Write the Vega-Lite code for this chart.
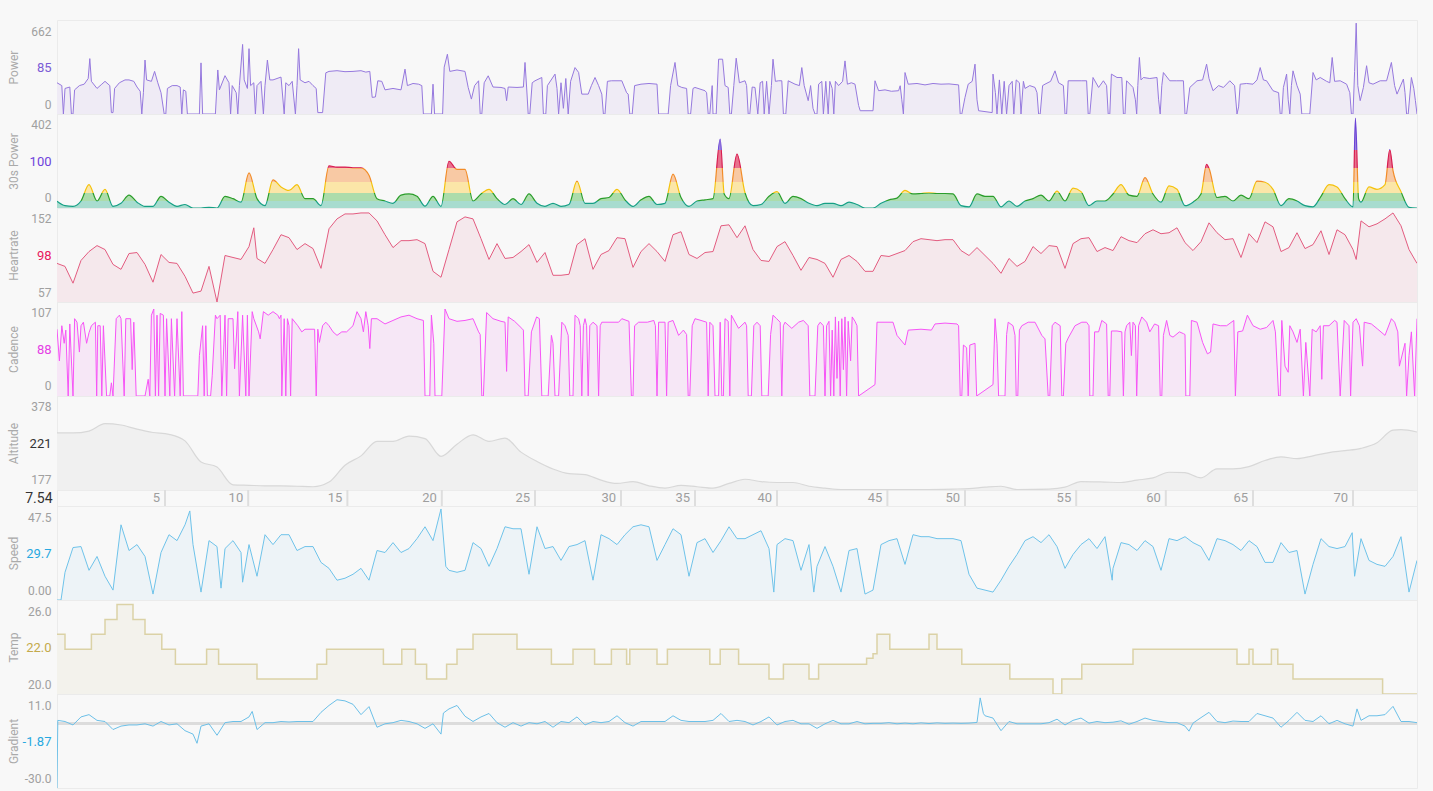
{
  "$schema": "https://vega.github.io/schema/vega-lite/v6.json",
  "background": "#f8f8f8",
  "padding": {"left": 6, "top": 19, "right": 16, "bottom": 4},
  "bounds": "flush",
  "spacing": 0,
  "config": {
    "font": "Roboto",
    "view": {"stroke": "#ebebeb", "strokeWidth": 1},
    "axis": {
      "ticks": false, "domain": false, "grid": false,
      "labelFont": "Roboto", "labelFontSize": 12, "labelColor": "#a0a0a0", "labelPadding": 6,
      "titleFont": "Roboto", "titleFontSize": 12, "titleFontWeight": "normal", "titleColor": "#aaaaaa",
      "minExtent": 38, "maxExtent": 38, "titlePadding": 2, "titleBaseline": "alphabetic"
    }
  },
  "datasets": {
    "pw": [
      {"t":0,"v":220},{"t":0.6,"v":200},{"t":0.8,"v":0},{"t":1.0,"v":180},{"t":1.6,"v":190},{"t":1.8,"v":0},{"t":2.0,"v":0},{"t":2.2,"v":170},{"t":2.8,"v":200},{"t":3.4,"v":210},
      {"t":3.9,"v":250},{"t":4.1,"v":390},{"t":4.3,"v":230},{"t":5,"v":180},{"t":5.6,"v":210},{"t":6,"v":230},{"t":6.6,"v":200},{"t":6.8,"v":10},{"t":7.0,"v":10},{"t":7.2,"v":180},
      {"t":7.8,"v":220},{"t":8.5,"v":240},{"t":9,"v":240},{"t":9.6,"v":230},{"t":10,"v":190},{"t":10.4,"v":160},{"t":10.6,"v":0},{"t":10.8,"v":150},{"t":11.0,"v":380},{"t":11.2,"v":240},
      {"t":11.8,"v":230},{"t":12.2,"v":300},{"t":12.6,"v":220},{"t":13,"v":150},{"t":13.4,"v":0},{"t":13.6,"v":0},{"t":13.8,"v":180},{"t":14.4,"v":200},{"t":15,"v":200},{"t":15.4,"v":190},
      {"t":15.6,"v":0},{"t":15.8,"v":170},{"t":16.1,"v":160},{"t":16.3,"v":0},{"t":17.8,"v":0},{"t":18,"v":360},{"t":18.2,"v":0},{"t":19.8,"v":0},{"t":20.1,"v":310},{"t":20.3,"v":170},
      {"t":21,"v":270},{"t":21.5,"v":220},{"t":21.7,"v":0},{"t":21.9,"v":200},{"t":22.4,"v":150},{"t":22.6,"v":0},{"t":22.8,"v":200},{"t":23.2,"v":490},{"t":23.4,"v":240},{"t":23.8,"v":180},
      {"t":24.0,"v":460},{"t":24.2,"v":200},{"t":24.6,"v":220},{"t":24.8,"v":0},{"t":25.0,"v":200},{"t":25.5,"v":230},{"t":25.8,"v":0},{"t":26.0,"v":200},{"t":26.3,"v":380},{"t":26.6,"v":240},
      {"t":27,"v":240},{"t":27.5,"v":250},{"t":28,"v":260},{"t":28.4,"v":0},{"t":28.6,"v":220},{"t":29,"v":200},{"t":29.4,"v":230},{"t":29.8,"v":0},{"t":30.0,"v":200},{"t":30.2,"v":460},
      {"t":30.4,"v":240},{"t":31,"v":220},{"t":31.5,"v":230},{"t":32,"v":200},{"t":32.4,"v":180},{"t":32.6,"v":10},{"t":33.2,"v":10},{"t":33.6,"v":290},{"t":34,"v":300},{"t":35,"v":305},
      {"t":36,"v":298},{"t":37,"v":300},{"t":38,"v":305},{"t":38.6,"v":295},{"t":39.1,"v":300},{"t":39.4,"v":117},{"t":39.8,"v":120},{"t":40.1,"v":234},{"t":40.6,"v":230},{"t":41,"v":170},
      {"t":42,"v":180},{"t":43,"v":170},{"t":43.5,"v":316},{"t":43.8,"v":200},{"t":44.5,"v":215},{"t":45.2,"v":210},{"t":45.6,"v":200},{"t":45.8,"v":0},{"t":46.8,"v":0},{"t":47,"v":210},
      {"t":47.2,"v":0},{"t":48.2,"v":0},{"t":48.4,"v":330},{"t":48.8,"v":421},{"t":49.1,"v":300},{"t":50,"v":310},{"t":51,"v":300},{"t":51.4,"v":187},{"t":51.8,"v":105},{"t":52.2,"v":200},
      {"t":52.7,"v":234},{"t":52.9,"v":0},{"t":53.1,"v":0},{"t":53.4,"v":220},{"t":53.9,"v":269},{"t":54.5,"v":190},{"t":55.5,"v":187},{"t":56,"v":180},{"t":56.2,"v":94},{"t":56.4,"v":190},
      {"t":57.5,"v":187},{"t":58.3,"v":190},{"t":58.5,"v":363},{"t":58.7,"v":190},{"t":58.9,"v":0},{"t":59.1,"v":0},{"t":59.4,"v":220},{"t":59.75,"v":234},{"t":60.6,"v":257},{"t":60.8,"v":0},
      {"t":61.1,"v":0},{"t":61.3,"v":200},{"t":62.25,"v":281},{"t":62.5,"v":180},{"t":62.7,"v":0},{"t":63,"v":220},{"t":63.3,"v":40},{"t":63.6,"v":250},{"t":63.9,"v":0},{"t":64.2,"v":230},
      {"t":64.75,"v":327},{"t":65.2,"v":293},{"t":65.6,"v":140},{"t":66.4,"v":140},{"t":66.8,"v":200},{"t":67.25,"v":257},{"t":67.7,"v":200},{"t":68.1,"v":140},{"t":68.3,"v":0},{"t":68.5,"v":0},
      {"t":68.8,"v":230},{"t":69.3,"v":234},{"t":70.6,"v":234},{"t":71.2,"v":150},{"t":71.4,"v":140},{"t":71.6,"v":0},{"t":71.9,"v":0},{"t":72.2,"v":200},{"t":73,"v":210},{"t":74,"v":215},
      {"t":75,"v":210},{"t":75.2,"v":0},{"t":76.4,"v":0},{"t":76.7,"v":200},{"t":77.25,"v":363},{"t":77.6,"v":200},{"t":78.1,"v":187},{"t":78.7,"v":180},{"t":78.9,"v":0},{"t":79.2,"v":0},
      {"t":79.5,"v":180},{"t":79.75,"v":187},{"t":81,"v":164},{"t":81.2,"v":150},{"t":81.4,"v":0},{"t":81.6,"v":0},{"t":81.9,"v":200},{"t":82.0,"v":0},{"t":82.4,"v":0},{"t":82.7,"v":386},
      {"t":83.2,"v":386},{"t":83.5,"v":200},{"t":83.9,"v":187},{"t":84.1,"v":0},{"t":84.3,"v":0},{"t":84.6,"v":200},{"t":84.9,"v":393},{"t":85.3,"v":220},{"t":86,"v":234},{"t":86.2,"v":200},
      {"t":86.4,"v":0},{"t":86.6,"v":0},{"t":86.9,"v":190},{"t":87.25,"v":187},{"t":87.6,"v":0},{"t":87.9,"v":220},{"t":88.2,"v":230},{"t":88.4,"v":0},{"t":88.7,"v":230},{"t":89,"v":0},
      {"t":89.3,"v":200},{"t":89.5,"v":386},{"t":89.8,"v":230},{"t":90.2,"v":234},{"t":90.6,"v":234},{"t":90.8,"v":0},{"t":91.1,"v":0},{"t":91.4,"v":234},{"t":92.25,"v":210},{"t":92.8,"v":200},
      {"t":93.1,"v":327},{"t":93.4,"v":200},{"t":93.9,"v":94},{"t":94.2,"v":200},{"t":94.5,"v":40},{"t":94.75,"v":0},{"t":95.0,"v":0},{"t":95.2,"v":210},{"t":95.6,"v":230},{"t":95.8,"v":0},
      {"t":96.1,"v":230},{"t":96.4,"v":0},{"t":96.6,"v":230},{"t":96.9,"v":180},{"t":97.1,"v":0},{"t":97.3,"v":230},{"t":97.7,"v":200},{"t":98.2,"v":230},{"t":98.5,"v":374},{"t":98.8,"v":210},
      {"t":99.3,"v":220},{"t":99.75,"v":210},{"t":100.2,"v":60},{"t":100.4,"v":23},{"t":102,"v":23},{"t":102.25,"v":234},{"t":102.7,"v":164},{"t":103.5,"v":170},{"t":104.3,"v":160},{"t":105.2,"v":164},
      {"t":105.4,"v":199},{"t":105.6,"v":100},{"t":105.8,"v":0},{"t":106,"v":292},{"t":106.4,"v":210},{"t":107.5,"v":215},{"t":108.5,"v":205},{"t":109.5,"v":215},{"t":110.5,"v":210},{"t":111.5,"v":212},
      {"t":112.7,"v":205},{"t":112.9,"v":0},{"t":113.1,"v":0},{"t":113.5,"v":117},{"t":113.9,"v":210},{"t":114.4,"v":230},{"t":114.75,"v":351},{"t":115,"v":100},{"t":115.2,"v":23},{"t":116.9,"v":10},
      {"t":117,"v":281},{"t":117.3,"v":150},{"t":117.5,"v":0},{"t":117.8,"v":240},{"t":118.1,"v":0},{"t":118.4,"v":230},{"t":118.7,"v":0},{"t":119,"v":200},{"t":119.4,"v":230},{"t":119.6,"v":0},
      {"t":119.9,"v":240},{"t":120.3,"v":220},{"t":120.5,"v":0},{"t":120.8,"v":230},{"t":121,"v":180},{"t":121.6,"v":200},{"t":122.25,"v":187},{"t":122.5,"v":150},{"t":122.7,"v":0},{"t":122.9,"v":0},
      {"t":123.2,"v":200},{"t":123.5,"v":210},{"t":124.2,"v":230},{"t":124.75,"v":304},{"t":125.2,"v":220},{"t":125.8,"v":200},{"t":126,"v":0},{"t":126.2,"v":0},{"t":126.4,"v":234},{"t":127.25,"v":234},
      {"t":128.1,"v":234},{"t":128.7,"v":234},{"t":128.9,"v":0},{"t":129.1,"v":0},{"t":129.5,"v":257},{"t":130.2,"v":187},{"t":130.8,"v":234},{"t":131.2,"v":200},{"t":131.4,"v":0},{"t":131.6,"v":0},
      {"t":131.8,"v":281},{"t":132.5,"v":257},{"t":133.1,"v":257},{"t":133.3,"v":0},{"t":133.5,"v":0},{"t":133.7,"v":234},{"t":134.5,"v":187},{"t":134.8,"v":100},{"t":134.96,"v":0},{"t":135.1,"v":200},
      {"t":135.3,"v":398},{"t":135.5,"v":240},{"t":135.8,"v":257},{"t":136.6,"v":250},{"t":137.5,"v":257},{"t":137.7,"v":100},{"t":137.9,"v":0},{"t":138.1,"v":200},{"t":138.3,"v":292},{"t":139.1,"v":234},
      {"t":139.9,"v":234},{"t":140.8,"v":234},{"t":141,"v":0},{"t":141.2,"v":0},{"t":141.6,"v":187},{"t":142.5,"v":234},{"t":143.2,"v":240},{"t":143.7,"v":351},{"t":144,"v":250},{"t":144.5,"v":164},
      {"t":145.2,"v":200},{"t":145.8,"v":187},{"t":146.6,"v":234},{"t":147.2,"v":200},{"t":147.5,"v":0},{"t":147.7,"v":50},{"t":147.9,"v":210},{"t":148.7,"v":215},{"t":149.5,"v":210},{"t":150,"v":240},
      {"t":150.4,"v":327},{"t":150.8,"v":240},{"t":151.2,"v":234},{"t":152,"v":164},{"t":152.7,"v":150},{"t":152.9,"v":0},{"t":153.1,"v":0},{"t":153.3,"v":187},{"t":153.7,"v":281},{"t":153.9,"v":100},
      {"t":154.1,"v":0},{"t":154.3,"v":200},{"t":154.5,"v":304},{"t":155,"v":200},{"t":155.4,"v":140},{"t":155.6,"v":0},{"t":156.6,"v":0},{"t":157,"v":292},{"t":157.4,"v":240},{"t":157.9,"v":257},
      {"t":158.7,"v":230},{"t":159.1,"v":220},{"t":159.4,"v":398},{"t":159.7,"v":230},{"t":160.4,"v":234},{"t":161.2,"v":210},{"t":161.6,"v":150},{"t":161.8,"v":0},{"t":162,"v":0},{"t":162.2,"v":300},
      {"t":162.4,"v":640},{"t":162.6,"v":200},{"t":162.9,"v":94},{"t":163.3,"v":187},{"t":163.7,"v":340},{"t":164,"v":220},{"t":164.5,"v":210},{"t":165.4,"v":234},{"t":166.2,"v":234},{"t":166.8,"v":363},
      {"t":167.2,"v":200},{"t":167.5,"v":140},{"t":168.3,"v":246},{"t":168.5,"v":150},{"t":168.7,"v":0},{"t":168.9,"v":0},{"t":169.3,"v":257},{"t":169.6,"v":180},{"t":169.8,"v":94},{"t":170,"v":0}
    ],
    "p30": [
      {"t":0,"v":29},{"t":1,"v":10},{"t":2,"v":7},{"t":3,"v":30},{"t":4,"v":100},{"t":5,"v":30},{"t":6,"v":80},{"t":7,"v":7},{"t":8,"v":20},{"t":9,"v":55},
      {"t":10,"v":25},{"t":11,"v":7},{"t":12,"v":7},{"t":13,"v":50},{"t":14,"v":25},{"t":15,"v":7},{"t":16,"v":15},{"t":17,"v":0},{"t":18,"v":0},{"t":19,"v":3},
      {"t":20,"v":0},{"t":21,"v":50},{"t":22,"v":40},{"t":23,"v":25},{"t":24,"v":150},{"t":25,"v":40},{"t":26,"v":10},{"t":27,"v":120},{"t":28,"v":90},{"t":29,"v":75},
      {"t":30,"v":100},{"t":31,"v":40},{"t":32,"v":40},{"t":33,"v":10},{"t":34,"v":180},{"t":35,"v":175},{"t":36,"v":175},{"t":37,"v":172},{"t":38,"v":172},{"t":39,"v":140},
      {"t":40,"v":40},{"t":41,"v":30},{"t":42,"v":20},{"t":43,"v":55},{"t":44,"v":60},{"t":45,"v":50},{"t":46,"v":8},{"t":47,"v":50},{"t":48,"v":7},{"t":49,"v":200},
      {"t":50,"v":165},{"t":51,"v":165},{"t":52,"v":30},{"t":53,"v":60},{"t":54,"v":80},{"t":55,"v":40},{"t":56,"v":15},{"t":57,"v":40},{"t":58,"v":15},{"t":59,"v":60},
      {"t":60,"v":20},{"t":61,"v":7},{"t":62,"v":20},{"t":63,"v":7},{"t":64,"v":15},{"t":65,"v":115},{"t":66,"v":20},{"t":67,"v":20},{"t":68,"v":40},{"t":69,"v":45},
      {"t":70,"v":80},{"t":71,"v":35},{"t":72,"v":7},{"t":73,"v":35},{"t":74,"v":50},{"t":75,"v":15},{"t":76,"v":20},{"t":77,"v":145},{"t":78,"v":45},{"t":79,"v":7},
      {"t":80,"v":30},{"t":81,"v":35},{"t":82,"v":40},{"t":82.9,"v":295},{"t":83.4,"v":60},{"t":84,"v":40},{"t":85,"v":230},{"t":86,"v":65},{"t":87,"v":10},{"t":88,"v":15},{"t":89,"v":50},
      {"t":90,"v":70},{"t":91,"v":20},{"t":92,"v":50},{"t":93,"v":40},{"t":94,"v":20},{"t":95,"v":10},{"t":96,"v":20},{"t":97,"v":20},{"t":98,"v":10},{"t":99,"v":25},
      {"t":100,"v":15},{"t":101,"v":0},{"t":102,"v":0},{"t":103,"v":20},{"t":104,"v":35},{"t":105,"v":42},{"t":106,"v":75},{"t":107,"v":60},{"t":108,"v":62},{"t":109,"v":65},
      {"t":110,"v":62},{"t":111,"v":62},{"t":112,"v":60},{"t":113,"v":10},{"t":114,"v":5},{"t":115,"v":60},{"t":116,"v":50},{"t":117,"v":50},{"t":118,"v":5},{"t":119,"v":30},
      {"t":120,"v":7},{"t":121,"v":30},{"t":122,"v":40},{"t":123,"v":55},{"t":124,"v":30},{"t":125,"v":72},{"t":126,"v":30},{"t":127,"v":85},{"t":128,"v":70},{"t":129,"v":10},
      {"t":130,"v":30},{"t":131,"v":30},{"t":132,"v":60},{"t":133,"v":100},{"t":134,"v":55},{"t":135,"v":50},{"t":136,"v":130},{"t":137,"v":60},{"t":138,"v":25},{"t":139,"v":95},
      {"t":140,"v":80},{"t":141,"v":10},{"t":142,"v":25},{"t":143,"v":60},{"t":143.7,"v":187},{"t":144,"v":170},{"t":145,"v":45},{"t":146,"v":50},{"t":147,"v":30},{"t":148,"v":55},{"t":149,"v":40},
      {"t":150,"v":115},{"t":151,"v":110},{"t":152,"v":80},{"t":153,"v":10},{"t":154,"v":40},{"t":155,"v":30},{"t":156,"v":10},{"t":157,"v":5},{"t":158,"v":50},{"t":159,"v":100},
      {"t":160,"v":90},{"t":161,"v":40},{"t":162,"v":5},{"t":162.3,"v":385},{"t":162.7,"v":40},{"t":163,"v":25},{"t":164,"v":90},{"t":165,"v":80},{"t":166,"v":100},{"t":166.6,"v":250},{"t":167,"v":160},
      {"t":168,"v":70},{"t":169,"v":3},{"t":170,"v":0}
    ],
    "hr": [
      {"t":0,"v":96},{"t":1,"v":93},{"t":2,"v":76},{"t":3,"v":99},{"t":4,"v":108},{"t":5,"v":114},{"t":6,"v":110},{"t":7,"v":95},{"t":8,"v":90},{"t":9,"v":106},
      {"t":10,"v":107},{"t":11,"v":95},{"t":12,"v":77},{"t":13,"v":105},{"t":14,"v":97},{"t":15,"v":96},{"t":16,"v":83},{"t":17,"v":66},{"t":18,"v":68},{"t":19,"v":93},
      {"t":20,"v":57},{"t":21,"v":104},{"t":22,"v":102},{"t":23,"v":100},{"t":24,"v":113},{"t":24.6,"v":132},{"t":25,"v":101},{"t":26,"v":96},{"t":27,"v":110},{"t":28,"v":125},{"t":29,"v":122},
      {"t":30,"v":110},{"t":31,"v":116},{"t":32,"v":111},{"t":33,"v":91},{"t":34,"v":131},{"t":35,"v":141},{"t":36,"v":146},{"t":37,"v":146},{"t":38,"v":147},{"t":39,"v":147},
      {"t":40,"v":139},{"t":41,"v":125},{"t":42,"v":112},{"t":43,"v":119},{"t":44,"v":119},{"t":45,"v":120},{"t":46,"v":116},{"t":47,"v":88},{"t":48,"v":82},{"t":49,"v":110},
      {"t":50,"v":138},{"t":51,"v":143},{"t":52,"v":141},{"t":53,"v":121},{"t":54,"v":100},{"t":55,"v":116},{"t":56,"v":101},{"t":57,"v":102},{"t":58,"v":108},{"t":59,"v":115},
      {"t":60,"v":97},{"t":61,"v":107},{"t":62,"v":84},{"t":63,"v":84},{"t":64,"v":85},{"t":65,"v":115},{"t":66,"v":121},{"t":67,"v":90},{"t":68,"v":105},{"t":69,"v":109},
      {"t":70,"v":122},{"t":71,"v":121},{"t":72,"v":92},{"t":73,"v":108},{"t":74,"v":116},{"t":75,"v":108},{"t":76,"v":98},{"t":77,"v":125},{"t":78,"v":128},{"t":79,"v":105},
      {"t":80,"v":101},{"t":81,"v":107},{"t":82,"v":108},{"t":83,"v":134},{"t":84,"v":135},{"t":85,"v":122},{"t":86,"v":134},{"t":87,"v":110},{"t":88,"v":99},{"t":89,"v":98},
      {"t":90,"v":113},{"t":91,"v":118},{"t":92,"v":104},{"t":93,"v":89},{"t":94,"v":102},{"t":95,"v":100},{"t":96,"v":96},{"t":97,"v":82},{"t":98,"v":100},{"t":99,"v":104},
      {"t":100,"v":98},{"t":101,"v":88},{"t":102,"v":88},{"t":103,"v":104},{"t":104,"v":103},{"t":105,"v":106},{"t":106,"v":109},{"t":107,"v":118},{"t":108,"v":121},{"t":109,"v":120},
      {"t":110,"v":119},{"t":111,"v":120},{"t":112,"v":120},{"t":113,"v":109},{"t":114,"v":104},{"t":115,"v":112},{"t":116,"v":104},{"t":117,"v":96},{"t":118,"v":86},{"t":119,"v":101},
      {"t":120,"v":93},{"t":121,"v":98},{"t":122,"v":113},{"t":123,"v":106},{"t":124,"v":114},{"t":125,"v":113},{"t":126,"v":91},{"t":127,"v":116},{"t":128,"v":121},{"t":129,"v":122},
      {"t":130,"v":108},{"t":131,"v":112},{"t":132,"v":109},{"t":133,"v":123},{"t":134,"v":119},{"t":135,"v":117},{"t":136,"v":126},{"t":137,"v":130},{"t":138,"v":126},{"t":139,"v":127},
      {"t":140,"v":132},{"t":141,"v":117},{"t":142,"v":109},{"t":143,"v":118},{"t":144,"v":137},{"t":145,"v":127},{"t":146,"v":120},{"t":147,"v":121},{"t":148,"v":102},{"t":149,"v":126},
      {"t":150,"v":117},{"t":151,"v":138},{"t":152,"v":133},{"t":153,"v":108},{"t":154,"v":112},{"t":155,"v":127},{"t":156,"v":111},{"t":157,"v":115},{"t":158,"v":129},{"t":159,"v":105},
      {"t":160,"v":130},{"t":161,"v":125},{"t":162,"v":110},{"t":162.4,"v":100},{"t":163,"v":139},{"t":164,"v":133},{"t":165,"v":136},{"t":166,"v":141},{"t":167,"v":147},{"t":168,"v":134},
      {"t":169,"v":110},{"t":170,"v":96}
    ],
    "cad": [
      {"t":0,"v":76},{"t":0.3,"v":40},{"t":0.6,"v":80},{"t":0.9,"v":60},{"t":1.1,"v":75},{"t":1.4,"v":0},{"t":1.6,"v":82},{"t":2.0,"v":0},{"t":2.2,"v":88},{"t":2.5,"v":84},
      {"t":2.8,"v":50},{"t":3.0,"v":80},{"t":3.3,"v":84},{"t":3.7,"v":60},{"t":4.0,"v":72},{"t":4.3,"v":80},{"t":4.8,"v":84},{"t":4.96,"v":0},{"t":5.1,"v":80},{"t":5.4,"v":80},
      {"t":5.6,"v":0},{"t":5.8,"v":80},{"t":6.2,"v":0},{"t":6.6,"v":0},{"t":6.8,"v":15},{"t":7.0,"v":0},{"t":7.4,"v":88},{"t":7.8,"v":92},{"t":8.0,"v":88},{"t":8.4,"v":0},
      {"t":8.6,"v":88},{"t":9.2,"v":88},{"t":9.4,"v":30},{"t":9.6,"v":84},{"t":9.9,"v":0},{"t":11.0,"v":0},{"t":11.4,"v":19},{"t":11.6,"v":0},{"t":11.8,"v":92},{"t":12.1,"v":99},
      {"t":12.3,"v":0},{"t":12.5,"v":92},{"t":12.7,"v":0},{"t":12.9,"v":94},{"t":13.3,"v":92},{"t":13.5,"v":0},{"t":13.7,"v":88},{"t":14.1,"v":0},{"t":14.3,"v":88},{"t":14.7,"v":0},
      {"t":15.0,"v":88},{"t":15.4,"v":0},{"t":15.6,"v":96},{"t":15.8,"v":0},{"t":17.6,"v":0},{"t":17.8,"v":46},{"t":18.2,"v":80},{"t":18.4,"v":0},{"t":18.6,"v":80},{"t":18.8,"v":0},
      {"t":19.2,"v":0},{"t":19.4,"v":23},{"t":19.8,"v":92},{"t":20.0,"v":88},{"t":20.4,"v":92},{"t":20.6,"v":0},{"t":21.0,"v":92},{"t":21.2,"v":0},{"t":21.4,"v":88},{"t":22.0,"v":88},
      {"t":22.2,"v":31},{"t":22.6,"v":96},{"t":22.8,"v":0},{"t":23.2,"v":92},{"t":23.6,"v":0},{"t":23.8,"v":92},{"t":24.0,"v":0},{"t":24.4,"v":96},{"t":24.6,"v":88},{"t":25.2,"v":73},
      {"t":25.4,"v":65},{"t":25.8,"v":96},{"t":26.4,"v":92},{"t":27.0,"v":96},{"t":27.6,"v":92},{"t":27.8,"v":88},{"t":28.0,"v":92},{"t":28.1,"v":0},{"t":28.4,"v":88},{"t":28.6,"v":0},
      {"t":28.8,"v":88},{"t":29.0,"v":80},{"t":29.2,"v":0},{"t":29.4,"v":88},{"t":30.1,"v":80},{"t":30.6,"v":73},{"t":31.0,"v":76},{"t":32.2,"v":76},{"t":32.4,"v":0},{"t":32.6,"v":76},
      {"t":32.8,"v":61},{"t":33.2,"v":80},{"t":33.6,"v":84},{"t":34.0,"v":80},{"t":34.5,"v":73},{"t":35.0,"v":69},{"t":35.6,"v":73},{"t":36.2,"v":73},{"t":37.0,"v":80},{"t":37.5,"v":96},
      {"t":38.0,"v":88},{"t":38.3,"v":73},{"t":38.6,"v":96},{"t":38.9,"v":80},{"t":39.1,"v":54},{"t":39.3,"v":88},{"t":40,"v":88},{"t":41,"v":82},{"t":42,"v":86},{"t":43,"v":90},
      {"t":44,"v":92},{"t":45,"v":88},{"t":45.8,"v":86},{"t":46.0,"v":0},{"t":46.6,"v":0},{"t":46.8,"v":92},{"t":47.1,"v":60},{"t":47.25,"v":0},{"t":48.1,"v":0},{"t":48.5,"v":99},
      {"t":49,"v":88},{"t":50,"v":85},{"t":51,"v":86},{"t":52,"v":88},{"t":52.7,"v":73},{"t":52.9,"v":70},{"t":53.1,"v":0},{"t":53.3,"v":0},{"t":53.7,"v":95},{"t":54.5,"v":88},
      {"t":55.5,"v":85},{"t":56.0,"v":84},{"t":56.2,"v":28},{"t":56.4,"v":90},{"t":57.2,"v":85},{"t":58.1,"v":77},{"t":58.3,"v":75},{"t":58.5,"v":0},{"t":58.9,"v":0},{"t":59.3,"v":73},
      {"t":59.95,"v":90},{"t":60.3,"v":88},{"t":60.6,"v":0},{"t":61.4,"v":0},{"t":61.8,"v":69},{"t":62.0,"v":60},{"t":62.25,"v":0},{"t":62.7,"v":0},{"t":63.1,"v":84},{"t":63.5,"v":80},
      {"t":63.9,"v":69},{"t":64.1,"v":0},{"t":64.5,"v":0},{"t":64.75,"v":92},{"t":65.2,"v":88},{"t":65.4,"v":80},{"t":65.6,"v":0},{"t":65.8,"v":80},{"t":66,"v":88},{"t":66.2,"v":80},
      {"t":66.4,"v":0},{"t":66.6,"v":80},{"t":67.0,"v":84},{"t":67.5,"v":80},{"t":67.7,"v":0},{"t":67.9,"v":80},{"t":68.1,"v":84},{"t":69,"v":84},{"t":70.2,"v":84},{"t":70.6,"v":88},
      {"t":71.5,"v":85},{"t":71.8,"v":0},{"t":72.0,"v":0},{"t":72.2,"v":80},{"t":72.7,"v":84},{"t":73.8,"v":84},{"t":74.6,"v":86},{"t":74.8,"v":80},{"t":75.0,"v":0},{"t":75.2,"v":84},
      {"t":76.0,"v":84},{"t":76.2,"v":0},{"t":76.4,"v":84},{"t":77,"v":86},{"t":77.7,"v":69},{"t":78.3,"v":75},{"t":78.7,"v":70},{"t":78.9,"v":0},{"t":79.1,"v":0},{"t":79.4,"v":80},
      {"t":79.75,"v":88},{"t":80.5,"v":86},{"t":81.2,"v":84},{"t":81.4,"v":0},{"t":81.6,"v":84},{"t":82.0,"v":80},{"t":82.25,"v":0},{"t":82.7,"v":0},{"t":82.9,"v":84},{"t":83.1,"v":0},
      {"t":83.3,"v":0},{"t":83.5,"v":88},{"t":83.9,"v":85},{"t":84.1,"v":0},{"t":84.3,"v":92},{"t":85.2,"v":77},{"t":86,"v":84},{"t":86.2,"v":80},{"t":86.4,"v":0},{"t":86.8,"v":0},
      {"t":87.1,"v":80},{"t":87.5,"v":84},{"t":87.9,"v":80},{"t":88.1,"v":0},{"t":88.9,"v":0},{"t":89.2,"v":70},{"t":89.5,"v":92},{"t":89.96,"v":88},{"t":90.4,"v":84},{"t":90.6,"v":0},
      {"t":90.8,"v":80},{"t":91,"v":84},{"t":91.85,"v":77},{"t":92.7,"v":84},{"t":93.3,"v":86},{"t":93.9,"v":80},{"t":94.1,"v":0},{"t":94.75,"v":0},{"t":95.1,"v":80},{"t":95.4,"v":84},
      {"t":95.8,"v":80},{"t":96,"v":0},{"t":96.2,"v":80},{"t":96.5,"v":85},{"t":96.7,"v":0},{"t":96.9,"v":75},{"t":97.1,"v":0},{"t":97.3,"v":90},{"t":97.5,"v":20},{"t":97.7,"v":85},
      {"t":97.9,"v":0},{"t":98.1,"v":88},{"t":98.3,"v":30},{"t":98.5,"v":90},{"t":98.7,"v":0},{"t":98.9,"v":85},{"t":99.2,"v":40},{"t":99.4,"v":90},{"t":99.75,"v":85},{"t":100.0,"v":80},
      {"t":100.2,"v":0},{"t":102.25,"v":13},{"t":102.5,"v":84},{"t":103.5,"v":84},{"t":104.5,"v":84},{"t":105,"v":69},{"t":106,"v":58},{"t":106.4,"v":75},{"t":108,"v":76},{"t":109.3,"v":75},
      {"t":109.75,"v":82},{"t":111,"v":83},{"t":112.5,"v":82},{"t":112.7,"v":80},{"t":112.9,"v":0},{"t":113.1,"v":0},{"t":113.3,"v":58},{"t":113.7,"v":55},{"t":113.9,"v":0},{"t":114.1,"v":58},
      {"t":114.75,"v":60},{"t":114.96,"v":0},{"t":117.0,"v":13},{"t":117.25,"v":88},{"t":117.5,"v":60},{"t":117.7,"v":0},{"t":118.5,"v":0},{"t":118.7,"v":70},{"t":118.9,"v":84},{"t":119.5,"v":80},
      {"t":119.75,"v":69},{"t":119.9,"v":0},{"t":120.1,"v":0},{"t":120.3,"v":75},{"t":120.6,"v":80},{"t":121.4,"v":84},{"t":122.25,"v":84},{"t":123.1,"v":69},{"t":123.5,"v":65},{"t":123.9,"v":0},
      {"t":124.1,"v":0},{"t":124.4,"v":80},{"t":124.75,"v":84},{"t":125.4,"v":80},{"t":125.6,"v":0},{"t":125.8,"v":0},{"t":126.1,"v":60},{"t":126.4,"v":66},{"t":127.25,"v":80},{"t":128.1,"v":84},
      {"t":128.7,"v":84},{"t":129.0,"v":80},{"t":129.1,"v":0},{"t":129.5,"v":0},{"t":129.7,"v":73},{"t":130.2,"v":73},{"t":130.6,"v":86},{"t":131.2,"v":82},{"t":131.4,"v":0},{"t":131.6,"v":0},
      {"t":131.8,"v":74},{"t":132.5,"v":74},{"t":133.1,"v":73},{"t":133.3,"v":0},{"t":133.5,"v":73},{"t":133.7,"v":80},{"t":134.1,"v":84},{"t":134.3,"v":46},{"t":134.5,"v":84},{"t":134.8,"v":80},
      {"t":134.96,"v":0},{"t":135.2,"v":80},{"t":135.6,"v":90},{"t":136.2,"v":84},{"t":136.6,"v":73},{"t":137.2,"v":82},{"t":137.7,"v":80},{"t":137.9,"v":0},{"t":138.1,"v":0},{"t":138.3,"v":69},
      {"t":138.7,"v":86},{"t":139.1,"v":69},{"t":139.5,"v":67},{"t":140.3,"v":73},{"t":140.8,"v":71},{"t":141.0,"v":70},{"t":141.1,"v":0},{"t":141.6,"v":0},{"t":141.8,"v":86},{"t":142.5,"v":84},
      {"t":143.2,"v":61},{"t":143.8,"v":48},{"t":144.2,"v":50},{"t":144.5,"v":82},{"t":145.4,"v":80},{"t":146.2,"v":80},{"t":147.1,"v":86},{"t":147.3,"v":0},{"t":147.6,"v":73},{"t":148.2,"v":74},
      {"t":148.8,"v":92},{"t":149.5,"v":80},{"t":150.4,"v":76},{"t":151.2,"v":78},{"t":152.0,"v":86},{"t":152.3,"v":73},{"t":152.7,"v":0},{"t":152.9,"v":0},{"t":153.1,"v":86},{"t":153.5,"v":34},
      {"t":153.9,"v":27},{"t":154.1,"v":80},{"t":154.5,"v":73},{"t":155.0,"v":61},{"t":155.4,"v":76},{"t":155.8,"v":0},{"t":156.1,"v":61},{"t":156.6,"v":0},{"t":156.9,"v":76},{"t":157.4,"v":73},
      {"t":157.9,"v":80},{"t":158.1,"v":19},{"t":158.3,"v":80},{"t":159.0,"v":80},{"t":159.7,"v":86},{"t":160.0,"v":84},{"t":160.4,"v":0},{"t":160.9,"v":86},{"t":161.5,"v":80},{"t":161.7,"v":0},
      {"t":162.0,"v":84},{"t":162.4,"v":88},{"t":162.8,"v":80},{"t":163.2,"v":34},{"t":163.4,"v":84},{"t":164.3,"v":82},{"t":165.1,"v":76},{"t":166.0,"v":69},{"t":166.8,"v":88},{"t":167.2,"v":84},
      {"t":167.6,"v":73},{"t":167.8,"v":34},{"t":168.5,"v":60},{"t":168.7,"v":0},{"t":169.0,"v":46},{"t":169.3,"v":73},{"t":169.7,"v":0},{"t":170,"v":88}
    ],
    "alt": [
      {"t":0,"v":299},{"t":2,"v":299},{"t":4,"v":303},{"t":6,"v":319},{"t":8,"v":316},{"t":10,"v":307},{"t":12,"v":300},{"t":14,"v":296},{"t":16,"v":282},{"t":18,"v":237},
      {"t":20,"v":226},{"t":22,"v":188},{"t":24,"v":187},{"t":26,"v":186},{"t":28,"v":186},{"t":30,"v":185},{"t":32,"v":184},{"t":34,"v":194},{"t":36,"v":230},{"t":38,"v":250},
      {"t":40,"v":281},{"t":42,"v":281},{"t":44,"v":292},{"t":46,"v":287},{"t":48,"v":249},{"t":50,"v":275},{"t":52,"v":295},{"t":54,"v":281},{"t":56,"v":288},{"t":58,"v":258},
      {"t":60,"v":238},{"t":62,"v":222},{"t":64,"v":212},{"t":66,"v":210},{"t":68,"v":198},{"t":70,"v":191},{"t":72,"v":195},{"t":74,"v":186},{"t":76,"v":181},{"t":78,"v":187},
      {"t":80,"v":184},{"t":82,"v":181},{"t":84,"v":191},{"t":86,"v":200},{"t":88,"v":195},{"t":90,"v":193},{"t":92,"v":193},{"t":94,"v":185},{"t":96,"v":181},{"t":98,"v":178},
      {"t":100,"v":178},{"t":104,"v":178},{"t":108,"v":178},{"t":112,"v":179},{"t":114,"v":180},{"t":116,"v":183},{"t":118,"v":185},{"t":120,"v":178},{"t":124,"v":179},{"t":126,"v":183},
      {"t":128,"v":195},{"t":131,"v":194},{"t":133,"v":193},{"t":135,"v":198},{"t":137,"v":203},{"t":139,"v":215},{"t":141,"v":214},{"t":143,"v":203},{"t":145,"v":222},{"t":147,"v":222},
      {"t":149,"v":227},{"t":151,"v":240},{"t":153,"v":248},{"t":155,"v":244},{"t":157,"v":250},{"t":159,"v":257},{"t":161,"v":261},{"t":163,"v":266},{"t":165,"v":278},{"t":167,"v":305},
      {"t":168,"v":306},{"t":170,"v":301}
    ],
    "spd": [
      {"t":0,"v":0},{"t":0.5,"v":0},{"t":1,"v":14},{"t":2,"v":26.5},{"t":3,"v":27},{"t":4,"v":15},{"t":5,"v":22},{"t":6,"v":12},{"t":7,"v":5},{"t":8,"v":38},{"t":9,"v":25},
      {"t":10,"v":28},{"t":11,"v":22},{"t":12,"v":3},{"t":13,"v":24},{"t":14,"v":33},{"t":15,"v":30},{"t":16,"v":38},{"t":16.6,"v":45},{"t":17,"v":28},{"t":18,"v":4},{"t":19,"v":30},
      {"t":20,"v":27},{"t":20.5,"v":6},{"t":21,"v":26},{"t":22,"v":30},{"t":23,"v":24},{"t":23.2,"v":9},{"t":24,"v":28},{"t":25,"v":12},{"t":26,"v":33},{"t":27,"v":28},{"t":28,"v":33},{"t":29,"v":33},
      {"t":30,"v":25},{"t":31,"v":27},{"t":32,"v":27},{"t":33,"v":19},{"t":34,"v":16},{"t":35,"v":10},{"t":36,"v":11},{"t":37,"v":13},{"t":38,"v":16},{"t":39,"v":10},
      {"t":40,"v":25},{"t":41,"v":24},{"t":42,"v":29},{"t":43,"v":24},{"t":44,"v":26},{"t":45,"v":31},{"t":46,"v":37},{"t":47,"v":30},{"t":48,"v":46},{"t":48.6,"v":17},{"t":49,"v":15},
      {"t":50,"v":14},{"t":51,"v":15},{"t":52,"v":29},{"t":53,"v":26},{"t":54,"v":17},{"t":55,"v":26},{"t":56,"v":37},{"t":57,"v":36},{"t":58,"v":36},{"t":59,"v":13},
      {"t":60,"v":37},{"t":61,"v":26},{"t":62,"v":27},{"t":63,"v":20},{"t":64,"v":27},{"t":65,"v":28},{"t":66,"v":30},{"t":67,"v":10},{"t":68,"v":33},{"t":69,"v":31},
      {"t":70,"v":28},{"t":71,"v":33},{"t":72,"v":37},{"t":73,"v":38},{"t":74,"v":37},{"t":75,"v":20},{"t":76,"v":28},{"t":77,"v":36},{"t":78,"v":33},{"t":79,"v":12},
      {"t":80,"v":29},{"t":81,"v":31},{"t":82,"v":24},{"t":83,"v":30},{"t":84,"v":37},{"t":85,"v":31},{"t":86,"v":31},{"t":87,"v":33},{"t":88,"v":35},{"t":89,"v":26},{"t":89.6,"v":4},
      {"t":90,"v":28},{"t":91,"v":31},{"t":92,"v":30},{"t":93,"v":15},{"t":94,"v":28},{"t":94.6,"v":4},{"t":95,"v":17},{"t":96,"v":27},{"t":97,"v":17},{"t":98,"v":4},{"t":99,"v":25},
      {"t":100,"v":26},{"t":101,"v":3},{"t":102,"v":5},{"t":103,"v":28},{"t":104,"v":30},{"t":105,"v":31},{"t":106,"v":18},{"t":107,"v":33},{"t":108,"v":32},{"t":109,"v":32},
      {"t":110,"v":31},{"t":111,"v":31},{"t":112,"v":31},{"t":113,"v":30},{"t":114,"v":13},{"t":115,"v":6},{"t":116,"v":5},{"t":117,"v":4},{"t":118,"v":10},{"t":119,"v":17},
      {"t":120,"v":23},{"t":121,"v":30},{"t":122,"v":32},{"t":123,"v":29},{"t":124,"v":33},{"t":125,"v":27},{"t":126,"v":16},{"t":127,"v":23},{"t":128,"v":28},{"t":129,"v":31},
      {"t":130,"v":26},{"t":131,"v":32},{"t":131.9,"v":10},{"t":132,"v":16},{"t":133,"v":29},{"t":134,"v":28},{"t":135,"v":25},{"t":136,"v":30},{"t":137,"v":27},{"t":138,"v":15},{"t":139,"v":31},
      {"t":140,"v":30},{"t":141,"v":32},{"t":142,"v":29},{"t":143,"v":27},{"t":144,"v":20},{"t":145,"v":31},{"t":146,"v":30},{"t":147,"v":28},{"t":148,"v":25},{"t":149,"v":30},
      {"t":150,"v":27},{"t":151,"v":19},{"t":152,"v":19},{"t":153,"v":29},{"t":154,"v":24},{"t":155,"v":25},{"t":156,"v":3},{"t":157,"v":18},{"t":158,"v":31},{"t":159,"v":27},
      {"t":160,"v":26},{"t":161,"v":27},{"t":161.9,"v":34},{"t":162.2,"v":12},{"t":163,"v":31},{"t":164,"v":20},{"t":165,"v":18},{"t":166,"v":17},{"t":167,"v":22},{"t":168,"v":32},
      {"t":169,"v":4},{"t":170,"v":20}
    ],
    "tmp": [
      {"t":0,"v":24},{"t":1,"v":23},{"t":4.3,"v":24},{"t":6,"v":25},{"t":7.5,"v":26},{"t":9.5,"v":25},{"t":11,"v":24},{"t":13.1,"v":23},{"t":14.8,"v":22},{"t":18.7,"v":23},
      {"t":20.2,"v":22},{"t":25,"v":21},{"t":32.5,"v":22},{"t":33.7,"v":23},{"t":40.8,"v":22},{"t":43.1,"v":23},{"t":44.8,"v":22},{"t":46.2,"v":21},{"t":48.7,"v":22},{"t":50,"v":23},
      {"t":52,"v":24},{"t":57.5,"v":23},{"t":61.8,"v":22},{"t":64.5,"v":23},{"t":67.2,"v":22},{"t":69.3,"v":23},{"t":71.2,"v":22},{"t":71.6,"v":23},{"t":75,"v":22},{"t":76.3,"v":23},
      {"t":81.6,"v":22},{"t":82.9,"v":23},{"t":85.2,"v":22},{"t":89,"v":21},{"t":90.8,"v":22},{"t":94,"v":21},{"t":95.2,"v":22},{"t":101.2,"v":22.4},{"t":102,"v":22.7},{"t":102.5,"v":24},
      {"t":104.1,"v":23},{"t":109,"v":24},{"t":110,"v":23},{"t":113.1,"v":22},{"t":119.1,"v":21},{"t":124.5,"v":20},{"t":125.6,"v":21},{"t":128.1,"v":22},{"t":134.5,"v":23},{"t":147.5,"v":22},
      {"t":149,"v":23},{"t":149.5,"v":22},{"t":151.8,"v":23},{"t":152.6,"v":22},{"t":154.5,"v":21},{"t":165.7,"v":20},{"t":170,"v":20}
    ],
    "gr": [
      {"t":0,"v":-30},{"t":0.1,"v":-0.5},{"t":1,"v":-1},{"t":2,"v":-2.5},{"t":3,"v":1},{"t":4,"v":2},{"t":5,"v":-0.5},{"t":6,"v":-1},{"t":7,"v":-4.5},{"t":8,"v":-3},{"t":9,"v":-2.5},
      {"t":10,"v":-2.5},{"t":11,"v":-2},{"t":12,"v":-3},{"t":13,"v":-1},{"t":14,"v":-2.5},{"t":15,"v":-2},{"t":16,"v":-5},{"t":17,"v":-6.5},{"t":17.5,"v":-10.5},{"t":18,"v":-3},{"t":19,"v":-2},
      {"t":20,"v":-7},{"t":21,"v":-1.5},{"t":22,"v":-1},{"t":23,"v":-1},{"t":24,"v":1},{"t":24.4,"v":3.4},{"t":25,"v":-4.5},{"t":26,"v":-1.5},{"t":27,"v":-1.5},{"t":28,"v":-1},{"t":29,"v":-1.2},
      {"t":30,"v":-1},{"t":31,"v":-1},{"t":32,"v":-1},{"t":33,"v":3},{"t":34,"v":6},{"t":35,"v":8.5},{"t":36,"v":8},{"t":37,"v":6.5},{"t":38,"v":2},{"t":39,"v":5.5},
      {"t":40,"v":-3.5},{"t":41,"v":-2},{"t":42,"v":-1.5},{"t":43,"v":-0.5},{"t":44,"v":-1},{"t":45,"v":-2},{"t":46,"v":-4},{"t":47,"v":-2},{"t":48,"v":-6.5},{"t":48.3,"v":2.7},{"t":49,"v":4.5},
      {"t":50,"v":6},{"t":51,"v":1.3},{"t":52,"v":-1},{"t":53,"v":1},{"t":54,"v":2.5},{"t":55,"v":-1.5},{"t":56,"v":-3.5},{"t":57,"v":-1.5},{"t":58,"v":-3},{"t":59,"v":-1.5},
      {"t":60,"v":-2},{"t":61,"v":-1},{"t":62,"v":-3.5},{"t":63,"v":-1},{"t":64,"v":-1.5},{"t":65,"v":1},{"t":66,"v":-2.5},{"t":67,"v":-1},{"t":68,"v":-1.5},{"t":69,"v":-1},
      {"t":70,"v":1.5},{"t":71,"v":-1.5},{"t":72,"v":-3},{"t":73,"v":-1},{"t":74,"v":-1},{"t":75,"v":-1},{"t":76,"v":-1},{"t":77,"v":1.5},{"t":78,"v":-0.5},{"t":79,"v":-1},
      {"t":80,"v":-1},{"t":81,"v":-1},{"t":82,"v":-0.5},{"t":83,"v":2.5},{"t":84,"v":-1},{"t":85,"v":-0.5},{"t":86,"v":-1},{"t":87,"v":-2.5},{"t":88,"v":-1},{"t":89,"v":1},
      {"t":90,"v":-2.5},{"t":91,"v":-1},{"t":92,"v":-0.5},{"t":93,"v":-2},{"t":94,"v":-2},{"t":95,"v":-4},{"t":96,"v":-2},{"t":97,"v":-0.5},{"t":98,"v":-2},{"t":99,"v":-2},
      {"t":100,"v":-1},{"t":101,"v":-2},{"t":102,"v":-1.8},{"t":103,"v":-1.8},{"t":104,"v":-1.5},{"t":105,"v":-2},{"t":106,"v":-1.7},{"t":107,"v":-2},{"t":108,"v":-1.6},{"t":109,"v":-1.9},
      {"t":110,"v":-1.6},{"t":111,"v":-1.8},{"t":112,"v":-1.7},{"t":113,"v":-1.8},{"t":114,"v":-1.7},{"t":115,"v":-1.4},{"t":115.4,"v":9.3},{"t":115.8,"v":2.5},{"t":116,"v":1.5},{"t":117,"v":0.5},{"t":118,"v":-5},{"t":119,"v":-1},
      {"t":120,"v":-2},{"t":121,"v":-2},{"t":122,"v":-2},{"t":123,"v":-2},{"t":124,"v":-1.5},{"t":125,"v":0},{"t":126,"v":-2.5},{"t":127,"v":-0.5},{"t":128,"v":0.5},{"t":129,"v":-1.7},
      {"t":130,"v":-1},{"t":131,"v":-1.5},{"t":132,"v":-1.3},{"t":133,"v":-0.7},{"t":134,"v":-2.2},{"t":135,"v":-1},{"t":136,"v":0.5},{"t":137,"v":-0.5},{"t":138,"v":-1},{"t":139,"v":-1.5},
      {"t":140,"v":-1.5},{"t":141,"v":-3},{"t":141.5,"v":-5.2},{"t":142,"v":-1.7},{"t":143,"v":0.7},{"t":144,"v":3},{"t":145,"v":-1},{"t":146,"v":-1.5},{"t":147,"v":-0.8},{"t":148,"v":-1},{"t":149,"v":-1},
      {"t":150,"v":2.5},{"t":151,"v":1.5},{"t":152,"v":0.5},{"t":153,"v":-3.5},{"t":154,"v":-0.5},{"t":155,"v":3},{"t":156,"v":-0.5},{"t":157,"v":-1},{"t":158,"v":1.5},{"t":159,"v":-2},
      {"t":160,"v":-0.5},{"t":161,"v":-2},{"t":162,"v":-3},{"t":162.5,"v":4.5},{"t":163,"v":-0.5},{"t":164,"v":1.5},{"t":165,"v":1.5},{"t":166,"v":2},{"t":167,"v":5.6},{"t":168,"v":-1},
      {"t":169,"v":-1},{"t":170,"v":-1.5}
    ],
    "km": [
      {"t":13.5,"km":"5"},{"t":23.9,"km":"10"},{"t":36.3,"km":"15"},{"t":48.1,"km":"20"},{"t":59.75,"km":"25"},{"t":70.5,"km":"30"},{"t":79.75,"km":"35"},
      {"t":90,"km":"40"},{"t":103.8,"km":"45"},{"t":113.5,"km":"50"},{"t":127.4,"km":"55"},{"t":138.6,"km":"60"},{"t":149.5,"km":"65"},{"t":162,"km":"70"}
    ]
  },
  "vconcat": [
    {
      "width": 1360, "height": 94,
      "data": {"name": "pw"},
      "encoding": {
        "x": {"field": "t", "type": "quantitative", "scale": {"domain": [0, 170]}, "axis": null},
        "y": {"field": "v", "type": "quantitative", "scale": {"domain": [0, 662], "nice": false, "zero": false},
          "axis": {"title": "Power", "values": [70.4, 331, 584.5],
            "labelExpr": "datum.value < 200 ? '0' : datum.value < 400 ? '85' : '662'",
            "labelColor": {"condition": {"test": "datum.value > 200 && datum.value < 400", "value": "#7c5cd6"}, "value": "#a0a0a0"},
            "labelFontSize": {"condition": {"test": "datum.value > 200 && datum.value < 400", "value": 13}, "value": 12}}}
      },
      "layer": [
        {"mark": {"type": "area", "color": "#efebf5", "clip": true}},
        {"mark": {"type": "line", "color": "#9679de", "strokeWidth": 1, "clip": true}}
      ]
    },
    {
      "width": 1360, "height": 94,
      "data": {"name": "p30"},
      "encoding": {
        "x": {"field": "t", "type": "quantitative", "scale": {"domain": [0, 170]}, "axis": null},
        "y": {"field": "v", "type": "quantitative", "scale": {"domain": [0, 402], "nice": false, "zero": false},
          "axis": {"title": "30s Power", "values": [42.8, 201, 355],
            "labelExpr": "datum.value < 100 ? '0' : datum.value < 300 ? '100' : '402'",
            "labelColor": {"condition": {"test": "datum.value > 100 && datum.value < 300", "value": "#6f42dc"}, "value": "#a0a0a0"},
            "labelFontSize": {"condition": {"test": "datum.value > 100 && datum.value < 300", "value": 13}, "value": 12}}}
      },
      "layer": [
        {"mark": {"type": "area", "clip": true, "interpolate": "monotone", "color": {"gradient": "linear", "x1": 0, "y1": 1, "x2": 0, "y2": 0, "stops": [
          {"offset": 0, "color": "#a8dccf"}, {"offset": 0.075, "color": "#a8dccf"},
          {"offset": 0.075, "color": "#acdcab"}, {"offset": 0.164, "color": "#acdcab"},
          {"offset": 0.164, "color": "#fbe6a8"}, {"offset": 0.291, "color": "#fbe6a8"},
          {"offset": 0.291, "color": "#f8c9a4"}, {"offset": 0.442, "color": "#f8c9a4"},
          {"offset": 0.442, "color": "#e8728e"}, {"offset": 0.642, "color": "#e8728e"},
          {"offset": 0.642, "color": "#9f88dd"}, {"offset": 1, "color": "#9f88dd"}]}}},
        {"mark": {"type": "line", "strokeWidth": 1.2, "clip": true, "interpolate": "monotone", "color": {"gradient": "linear", "x1": 0, "y1": 1, "x2": 0, "y2": 0, "stops": [
          {"offset": 0, "color": "#16a085"}, {"offset": 0.075, "color": "#16a085"},
          {"offset": 0.075, "color": "#2a9d2a"}, {"offset": 0.164, "color": "#2a9d2a"},
          {"offset": 0.164, "color": "#f4c20d"}, {"offset": 0.291, "color": "#f4c20d"},
          {"offset": 0.291, "color": "#f28c28"}, {"offset": 0.442, "color": "#f28c28"},
          {"offset": 0.442, "color": "#d81b4f"}, {"offset": 0.642, "color": "#d81b4f"},
          {"offset": 0.642, "color": "#6b43d6"}, {"offset": 1, "color": "#6b43d6"}]}}}
      ]
    },
    {
      "width": 1360, "height": 94,
      "data": {"name": "hr"},
      "encoding": {
        "x": {"field": "t", "type": "quantitative", "scale": {"domain": [0, 170]}, "axis": null},
        "y": {"field": "v", "type": "quantitative", "scale": {"domain": [57, 152], "nice": false, "zero": false},
          "axis": {"title": "Heartrate", "values": [67.1, 104.5, 140.9],
            "labelExpr": "datum.value < 80 ? '57' : datum.value < 120 ? '98' : '152'",
            "labelColor": {"condition": {"test": "datum.value > 80 && datum.value < 120", "value": "#e8175d"}, "value": "#a0a0a0"},
            "labelFontSize": {"condition": {"test": "datum.value > 80 && datum.value < 120", "value": 13}, "value": 12}}}
      },
      "layer": [
        {"mark": {"type": "area", "color": "#f5e8ec", "clip": true}},
        {"mark": {"type": "line", "color": "#e35c80", "strokeWidth": 1, "clip": true}}
      ]
    },
    {
      "width": 1360, "height": 94,
      "data": {"name": "cad"},
      "encoding": {
        "x": {"field": "t", "type": "quantitative", "scale": {"domain": [0, 170]}, "axis": null},
        "y": {"field": "v", "type": "quantitative", "scale": {"domain": [0, 107], "nice": false, "zero": false},
          "axis": {"title": "Cadence", "values": [11.4, 53.5, 94.5],
            "labelExpr": "datum.value < 30 ? '0' : datum.value < 80 ? '88' : '107'",
            "labelColor": {"condition": {"test": "datum.value > 30 && datum.value < 80", "value": "#e53fe5"}, "value": "#a0a0a0"},
            "labelFontSize": {"condition": {"test": "datum.value > 30 && datum.value < 80", "value": 13}, "value": 12}}}
      },
      "layer": [
        {"mark": {"type": "area", "color": "#f6e7f6", "clip": true}},
        {"mark": {"type": "line", "color": "#f655f6", "strokeWidth": 1, "clip": true}}
      ]
    },
    {
      "width": 1360, "height": 94,
      "data": {"name": "alt"},
      "encoding": {
        "x": {"field": "t", "type": "quantitative", "scale": {"domain": [0, 170]}, "axis": null},
        "y": {"field": "v", "type": "quantitative", "scale": {"domain": [177, 378], "nice": false, "zero": false},
          "axis": {"title": "Altitude", "values": [198.4, 277.5, 354.5],
            "labelExpr": "datum.value < 240 ? '177' : datum.value < 320 ? '221' : '378'",
            "labelColor": {"condition": {"test": "datum.value > 240 && datum.value < 320", "value": "#333333"}, "value": "#a0a0a0"},
            "labelFontSize": {"condition": {"test": "datum.value > 240 && datum.value < 320", "value": 13}, "value": 12}}}
      },
      "layer": [
        {"mark": {"type": "area", "color": "#f0f0f0", "clip": true, "interpolate": "monotone"}},
        {"mark": {"type": "line", "color": "#d8d8d8", "strokeWidth": 1.2, "clip": true, "interpolate": "monotone"}}
      ]
    },
    {
      "width": 1360, "height": 16,
      "data": {"name": "km"},
      "encoding": {
        "x": {"field": "t", "type": "quantitative", "scale": {"domain": [0, 170]}, "axis": null}
      },
      "layer": [
        {"mark": {"type": "rule", "color": "#dedede", "strokeWidth": 2}, "encoding": {}},
        {"mark": {"type": "text", "align": "right", "baseline": "middle", "dx": -5, "color": "#9e9e9e", "fontSize": 13, "font": "Roboto"},
          "encoding": {
            "text": {"field": "km"},
            "y": {"datum": 0.5, "type": "quantitative", "scale": {"domain": [0, 1]},
              "axis": {"title": "7.54", "labels": false, "titleAngle": 0, "titleAlign": "right", "titleBaseline": "middle",
                "titleX": -5, "titleY": 8, "titleColor": "#333333", "titleFontSize": 14}}
          }}
      ]
    },
    {
      "width": 1360, "height": 94,
      "data": {"name": "spd"},
      "encoding": {
        "x": {"field": "t", "type": "quantitative", "scale": {"domain": [0, 170]}, "axis": null},
        "y": {"field": "v", "type": "quantitative", "scale": {"domain": [0, 47.5], "nice": false, "zero": false},
          "axis": {"title": "Speed", "values": [5.05, 23.75, 41.94],
            "labelExpr": "datum.value < 10 ? '0.00' : datum.value < 35 ? '29.7' : '47.5'",
            "labelColor": {"condition": {"test": "datum.value > 10 && datum.value < 35", "value": "#29a8e0"}, "value": "#a0a0a0"},
            "labelFontSize": {"condition": {"test": "datum.value > 10 && datum.value < 35", "value": 13}, "value": 12}}}
      },
      "layer": [
        {"mark": {"type": "area", "color": "#edf3f7", "clip": true}},
        {"mark": {"type": "line", "color": "#6fc3ea", "strokeWidth": 1, "clip": true}}
      ]
    },
    {
      "width": 1360, "height": 94,
      "data": {"name": "tmp"},
      "encoding": {
        "x": {"field": "t", "type": "quantitative", "scale": {"domain": [0, 170]}, "axis": null},
        "y": {"field": "v", "type": "quantitative", "scale": {"domain": [20, 26.3], "nice": false, "zero": false},
          "axis": {"title": "Temp", "values": [20.67, 23.15, 25.56],
            "labelExpr": "datum.value < 22 ? '20.0' : datum.value < 24 ? '22.0' : '26.0'",
            "labelColor": {"condition": {"test": "datum.value > 22 && datum.value < 24", "value": "#c4aa4c"}, "value": "#a0a0a0"},
            "labelFontSize": {"condition": {"test": "datum.value > 22 && datum.value < 24", "value": 13}, "value": 12}}}
      },
      "layer": [
        {"mark": {"type": "area", "color": "#f3f2ec", "interpolate": "step-after", "clip": true}},
        {"mark": {"type": "line", "color": "#dbd2a6", "strokeWidth": 1.5, "interpolate": "step-after", "clip": true}}
      ]
    },
    {
      "width": 1360, "height": 94,
      "data": {"name": "gr"},
      "encoding": {
        "x": {"field": "t", "type": "quantitative", "scale": {"domain": [0, 170]}, "axis": null},
        "y": {"field": "v", "type": "quantitative", "scale": {"domain": [-30, 11], "nice": false, "zero": false},
          "axis": {"title": "Gradient", "values": [-25.64, -9.5, 6.2],
            "labelExpr": "datum.value < -20 ? '-30.0' : datum.value < 0 ? '-1.87' : '11.0'",
            "labelColor": {"condition": {"test": "datum.value > -20 && datum.value < 0", "value": "#29a8e0"}, "value": "#a0a0a0"},
            "labelFontSize": {"condition": {"test": "datum.value > -20 && datum.value < 0", "value": 13}, "value": 12}}}
      },
      "layer": [
        {"mark": {"type": "rule", "color": "#dcdcdc", "strokeWidth": 2},
          "encoding": {"x": {"value": 0}, "x2": {"value": 1360}, "y": {"datum": -1.87, "type": "quantitative"}}},
        {"mark": {"type": "line", "color": "#6cc0e8", "strokeWidth": 1, "clip": true}}
      ]
    }
  ]
}
